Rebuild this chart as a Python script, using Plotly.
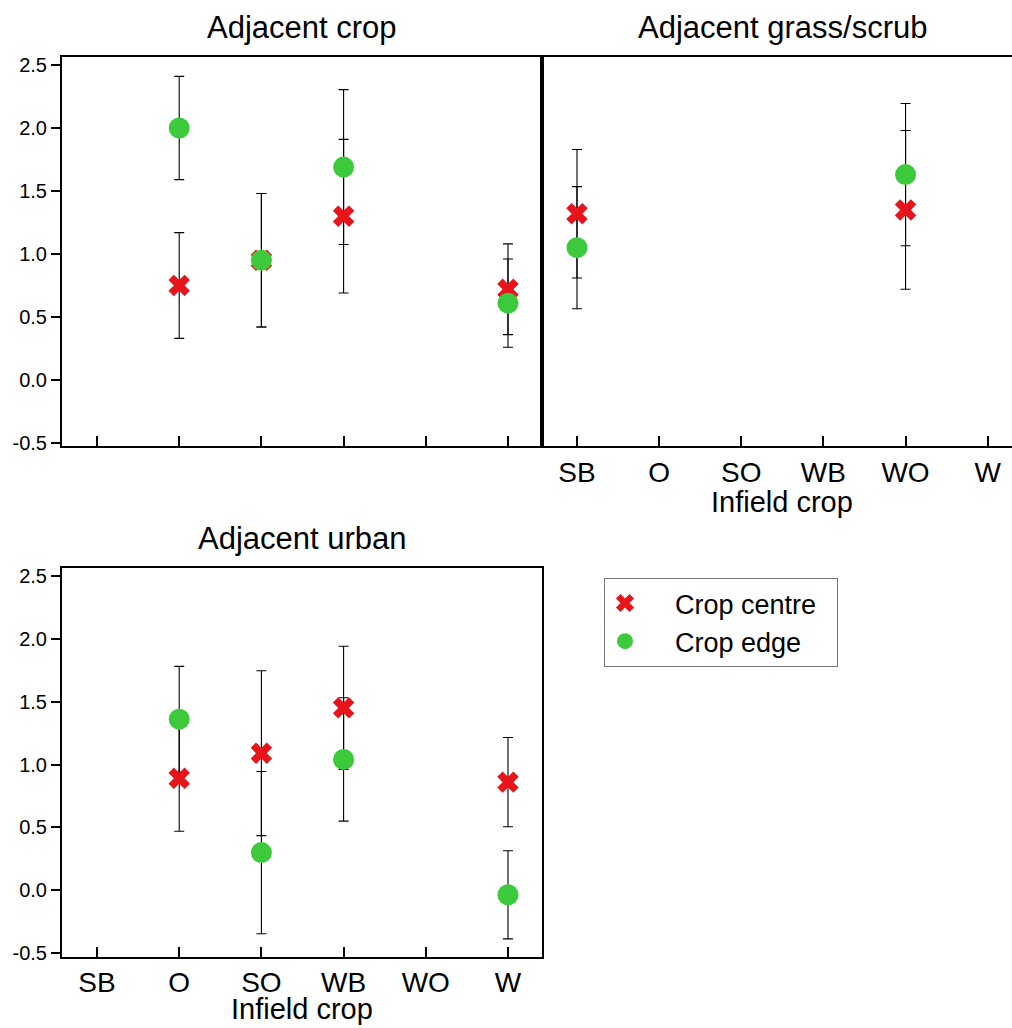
import plotly.graph_objects as go

crops = ["SB", "O", "SO", "WB", "WO", "W"]

# Adjacent crop
crop_centre_x = ["O", "SO", "WB", "W"]
crop_centre_y = [0.75, 0.95, 1.30, 0.72]
crop_centre_err = [0.42, 0.53, 0.61, 0.36]
crop_edge_x = ["O", "SO", "WB", "W"]
crop_edge_y = [2.00, 0.95, 1.69, 0.61]
crop_edge_err = [0.41, 0.53, 0.615, 0.35]

# Adjacent grass/scrub
grass_centre_x = ["SB", "WO"]
grass_centre_y = [1.32, 1.35]
grass_centre_err = [0.51, 0.63]
grass_edge_x = ["SB", "WO"]
grass_edge_y = [1.05, 1.63]
grass_edge_err = [0.485, 0.565]

# Adjacent urban
urban_centre_x = ["O", "SO", "WB", "W"]
urban_centre_y = [0.89, 1.09, 1.45, 0.86]
urban_centre_err = [0.42, 0.655, 0.49, 0.355]
urban_edge_x = ["O", "SO", "WB", "W"]
urban_edge_y = [1.36, 0.30, 1.04, -0.035]
urban_edge_err = [0.42, 0.645, 0.49, 0.35]

panel_titles = ["Adjacent crop", "Adjacent grass/scrub", "Adjacent urban"]
x_title = "Infield crop"
series_names = ["Crop centre", "Crop edge"]

RED = "#e8141b"
GREEN = "#3cca3c"
FONT = "Liberation Sans, Arial, sans-serif"
W, H = 1012, 1028

fig = go.Figure()

panels = [
    ("x", "y", crop_centre_x, crop_centre_y, crop_centre_err, crop_edge_x, crop_edge_y, crop_edge_err),
    ("x2", "y2", grass_centre_x, grass_centre_y, grass_centre_err, grass_edge_x, grass_edge_y, grass_edge_err),
    ("x3", "y3", urban_centre_x, urban_centre_y, urban_centre_err, urban_edge_x, urban_edge_y, urban_edge_err),
]

# error bars first (below all markers)
for xa, ya, cx, cy, ce, ex, ey, ee in panels:
    for xs, ys, es in ((cx, cy, ce), (ex, ey, ee)):
        fig.add_trace(go.Scatter(
            x=xs, y=ys, xaxis=xa, yaxis=ya, mode="markers",
            marker=dict(size=1, color="rgba(0,0,0,0)"),
            error_y=dict(type="data", array=es, visible=True, color="black", thickness=1.1, width=5),
            showlegend=False, hoverinfo="skip"))

pad = "\u00a0\u00a0\u00a0\u00a0"
for i, (xa, ya, cx, cy, ce, ex, ey, ee) in enumerate(panels):
    fig.add_trace(go.Scatter(
        x=cx, y=cy, xaxis=xa, yaxis=ya, mode="markers", name=pad + series_names[0] + "\u00a0\u00a0",
        marker=dict(symbol="x", size=19, color=RED, line=dict(width=0)),
        showlegend=(i == 0), legendgroup="c"))
    fig.add_trace(go.Scatter(
        x=ex, y=ey, xaxis=xa, yaxis=ya, mode="markers", name=pad + series_names[1],
        marker=dict(symbol="circle", size=21, color=GREEN, line=dict(width=0)),
        showlegend=(i == 0), legendgroup="e"))

def px_x(p):
    return p / W

def px_y(p):
    return 1 - p / H

dom_left = [px_x(62), px_x(542)]
dom_right = [px_x(542), 1.0]
dom_top = [px_y(446), px_y(56.7)]
dom_bot = [px_y(956.7), px_y(568.3)]

axis_common = dict(showline=True, linecolor="black", linewidth=2, showgrid=False, zeroline=False,
                   automargin=False)
xcommon = dict(axis_common, type="category", categoryorder="array", categoryarray=crops,
               ticks="inside", ticklen=10, tickwidth=2, tickcolor="black", ticklabelstandoff=0,
               tickfont=dict(family=FONT, size=28, color="black"))
ycommon = dict(axis_common, tickvals=[-0.5, 0, 0.5, 1.0, 1.5, 2.0, 2.5],
               ticktext=["-0.5", "0.0", "0.5", "1.0", "1.5", "2.0", "2.5"],
               ticks="outside", ticklen=9, tickwidth=2, tickcolor="black",
               tickfont=dict(family=FONT, size=20, color="black"))

fig.update_layout(
    width=W, height=H, margin=dict(l=0, r=0, t=0, b=0, autoexpand=False),
    paper_bgcolor="white", plot_bgcolor="white",
    xaxis=dict(xcommon, domain=dom_left, anchor="y", range=[-0.426, 5.414], mirror=True, showticklabels=False),
    yaxis=dict(ycommon, domain=dom_top, anchor="x", range=[-0.524, 2.566], mirror=True),
    xaxis2=dict(xcommon, domain=dom_right, anchor="y2", range=[-0.426, 5.296], mirror=True),
    yaxis2=dict(ycommon, domain=dom_top, anchor="x2", range=[-0.524, 2.566], mirror=False,
                ticks="", showticklabels=False),
    xaxis3=dict(xcommon, domain=dom_left, anchor="y3", range=[-0.426, 5.414], mirror=True),
    yaxis3=dict(ycommon, domain=dom_bot, anchor="x3", range=[-0.527, 2.559], mirror=True),
    legend=dict(x=px_x(604), y=px_y(578), xanchor="left", yanchor="top",
                bordercolor="#777777", borderwidth=1, bgcolor="white",
                font=dict(family=FONT, size=27, color="black"), tracegroupgap=0, itemwidth=30),
    showlegend=True,
)

ann_font = dict(family=FONT, size=31, color="black")
fig.add_annotation(text=panel_titles[0], xref="x", x=2.5, yref="paper", y=px_y(27), yanchor="middle",
                   showarrow=False, font=ann_font)
fig.add_annotation(text=panel_titles[1], xref="x2", x=2.5, yref="paper", y=px_y(27), yanchor="middle",
                   showarrow=False, font=ann_font)
fig.add_annotation(text=panel_titles[2], xref="x3", x=2.5, yref="paper", y=px_y(538), yanchor="middle",
                   showarrow=False, font=ann_font)
fig.add_annotation(text=x_title, xref="x2", x=2.5, yref="paper", y=px_y(502), yanchor="middle",
                   showarrow=False, font=dict(family=FONT, size=29, color="black"))
fig.add_annotation(text=x_title, xref="x3", x=2.5, yref="paper", y=px_y(1009), yanchor="middle",
                   showarrow=False, font=dict(family=FONT, size=29, color="black"))

fig.write_html("out.html")
